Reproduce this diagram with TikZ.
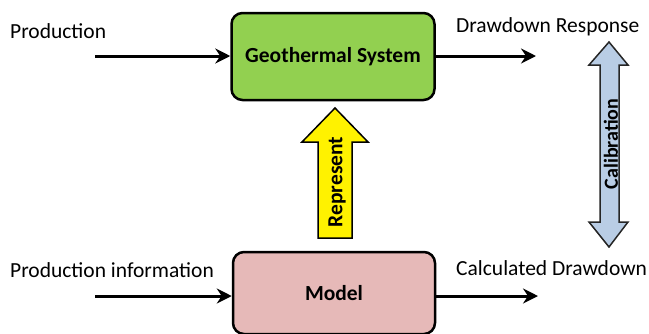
\documentclass[tikz,border=0pt]{standalone}
\usepackage{fontspec}
\setmainfont{Carlito}
\usetikzlibrary{arrows.meta}
\definecolor{geogreen}{HTML}{92D050}
\definecolor{modpink}{HTML}{E6B9B8}
\definecolor{calblue}{HTML}{B9CDE5}
\begin{document}
\begin{tikzpicture}[x=1pt,y=-1pt,
  box/.style={draw=black,line width=2.5pt,rounded corners=11pt,inner sep=0pt,font=\fontsize{21.5}{24}\selectfont\bfseries},
  lbl/.style={anchor=west,inner sep=0pt,font=\fontsize{21.5}{24}\selectfont},
  flow/.style={line width=3pt,-{Stealth[length=15pt,width=15pt,inset=5pt]}},
  bigarrow/.style={line width=1.5pt,line join=miter}]
\useasboundingbox (0,0) rectangle (649,333);
\node[box,fill=geogreen,minimum width=203pt,minimum height=87pt] (geo) at (333,56.5) {Geothermal System};
\node[box,fill=modpink,minimum width=202pt,minimum height=82pt] (model) at (334,293) {Model};
\node[lbl] (prod) at (10,31) {Production};
\node[lbl] (dd) at (456,27) {Drawdown Response};
\node[lbl] (pinfo) at (10,270) {Production information};
\node[lbl] (cd) at (456,268) {Calculated Drawdown};
\coordinate (p1) at (95,56);
\coordinate (d1) at (536,56);
\coordinate (p2) at (95,296);
\coordinate (d2) at (538,296);
\draw[flow] (p1) -- (geo.west |- p1);
\draw[flow] (geo.east |- d1) -- (d1);
\draw[flow] (p2) -- (model.west |- p2);
\draw[flow] (model.east |- d2) -- (d2);
% Represent arrow
\draw[bigarrow,fill=yellow] (318,238) -- (318,142) -- (302,142) -- (335,108) -- (368,142) -- (352,142) -- (352,238) -- cycle;
\node[rotate=90,inner sep=0pt,font=\fontsize{21.5}{24}\selectfont\bfseries] (rep) at (337,182) {Represent};
% Calibration arrow
\draw[bigarrow,draw=black!85,fill=calblue] (600,65) -- (589,65) -- (609,42) -- (628,65) -- (619,65) -- (619,222) -- (628,222) -- (609,247) -- (589,222) -- (600,222) -- cycle;
\node[rotate=90,inner sep=0pt,font=\fontsize{20}{24}\selectfont\bfseries] (cal) at (611,144) {Calibration};
\end{tikzpicture}
\end{document}
